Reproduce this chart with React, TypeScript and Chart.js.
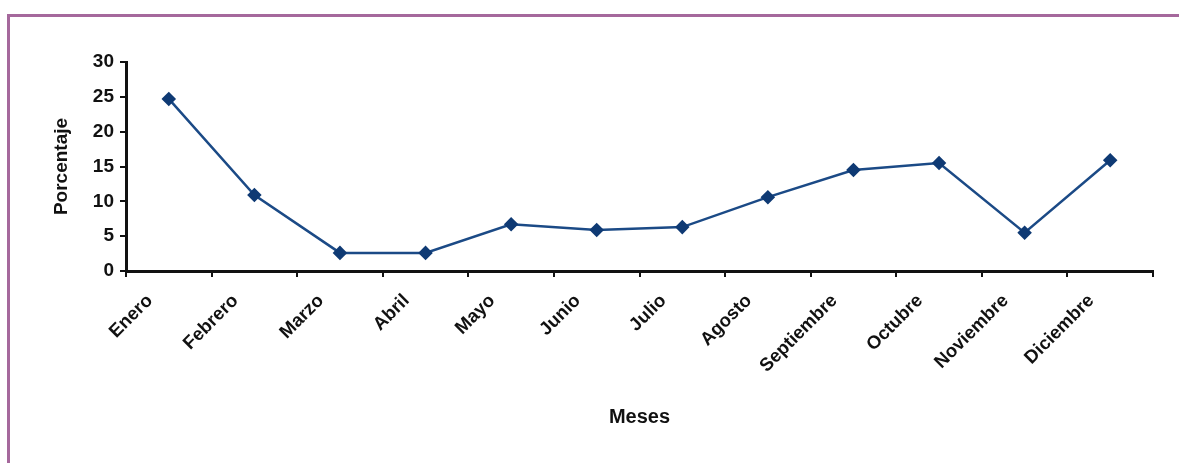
import React, { useEffect, useRef } from "react";
import { Chart, registerables } from "chart.js";

Chart.register(...registerables);

const months = [
  "Enero", "Febrero", "Marzo", "Abril", "Mayo", "Junio",
  "Julio", "Agosto", "Septiembre", "Octubre", "Noviembre", "Diciembre",
];
const percentages = [24.7, 10.9, 2.6, 2.6, 6.7, 5.9, 6.3, 10.6, 14.5, 15.5, 5.5, 15.9];
const yTicks = [0, 5, 10, 15, 20, 25, 30];

const W = 1179;
const H = 463;
const FONT = "'Liberation Sans', Arial, sans-serif";
const LINE = "#1b4a86";
const MARK = "#0f3a74";

export default function App() {
  const ref = useRef<HTMLCanvasElement | null>(null);

  useEffect(() => {
    const canvas = ref.current;
    if (!canvas) return;
    const chart = new Chart(canvas, {
      type: "line",
      data: {
        labels: months,
        datasets: [
          {
            data: percentages,
            borderColor: LINE,
            borderWidth: 2.5,
            backgroundColor: MARK,
            pointBackgroundColor: MARK,
            pointBorderColor: MARK,
            pointStyle: "rectRot",
            pointRadius: 5.5,
            tension: 0,
          },
        ],
      },
      options: {
        responsive: false,
        animation: false,
        layout: { padding: { left: 46, top: 62, right: 26, bottom: 34 } },
        plugins: { legend: { display: false }, tooltip: { enabled: false } },
        scales: {
          x: {
            type: "category",
            offset: true,
            grid: {
              offset: true,
              drawOnChartArea: false,
              drawTicks: true,
              tickLength: 6,
              color: "#111",
              lineWidth: 2,
            },
            border: { display: true, color: "#111", width: 3 },
            ticks: {
              autoSkip: false,
              maxRotation: 45,
              minRotation: 45,
              labelOffset: -19,
              padding: 13,
              color: "#111",
              font: { family: FONT, size: 18.5, weight: "bold" },
            },
            title: {
              display: true,
              text: "Meses",
              color: "#111",
              font: { family: FONT, size: 20, weight: "bold" },
              padding: { top: 0, bottom: 0 },
            },
            afterFit: (scale: any) => {
              scale.height = H - 271 - 34;
            },
          },
          y: {
            min: 0,
            max: 30,
            afterBuildTicks: (scale: any) => {
              scale.ticks = yTicks.map((v) => ({ value: v }));
            },
            grid: {
              drawOnChartArea: false,
              drawTicks: true,
              tickLength: 6,
              color: "#111",
              lineWidth: 2,
            },
            border: { display: true, color: "#111", width: 3 },
            ticks: {
              padding: 6,
              color: "#111",
              font: { family: FONT, size: 19, weight: "bold" },
            },
            title: {
              display: true,
              text: "Porcentaje",
              color: "#111",
              font: { family: FONT, size: 19, weight: "bold" },
              padding: { top: 4, bottom: 0 },
            },
            afterFit: (scale: any) => {
              scale.width = 126 - 46;
            },
          },
        },
      },
    });
    return () => chart.destroy();
  }, []);

  return (
    <div style={{ position: "fixed", left: 0, top: 0, width: W, height: H, background: "#fff", overflow: "hidden" }}>
      <div
        style={{
          position: "absolute",
          left: 7,
          top: 14,
          width: W,
          height: H,
          borderLeft: "3px solid #a5689c",
          borderTop: "3px solid #a5689c",
        }}
      />
      <canvas ref={ref} width={W} height={H} style={{ position: "absolute", left: 0, top: 0 }} />
    </div>
  );
}
